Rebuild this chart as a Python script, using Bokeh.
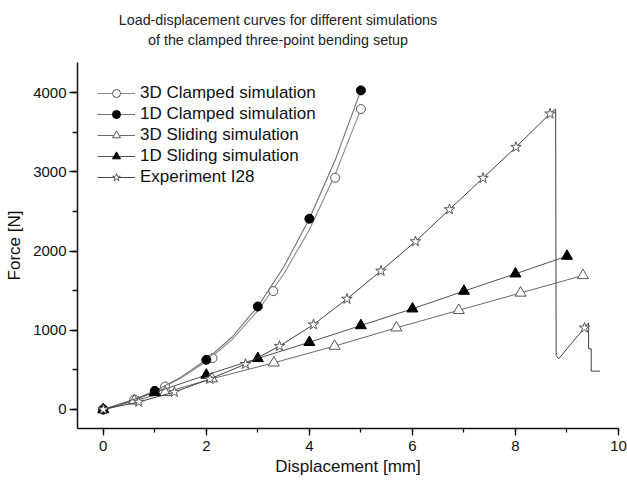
from bokeh.plotting import figure
from bokeh.layouts import column
from bokeh.models import SingleIntervalTicker, Range1d, Legend, LegendItem, Div
from bokeh.embed import file_html
from bokeh.resources import INLINE

# 3D clamped simulation: result points and the fitted curve
c3d_x = [0, 0.6, 1.2, 2.12, 3.3, 4.5, 5.0]
c3d_y = [0, 125, 290, 648, 1494, 2925, 3792]
c3d_curve_x = [0, 0.5, 1, 1.5, 2, 2.5, 3, 3.5, 4, 4.5, 5]
c3d_curve_y = [0, 94, 224, 393, 605, 881, 1247, 1707, 2270, 2967, 3792]

# 1D clamped simulation
c1d_x = [0, 1, 2, 3, 4, 5]
c1d_y = [0, 235, 627, 1300, 2408, 4028]
c1d_curve_x = [0, 0.5, 1, 1.5, 2, 2.5, 3, 3.5, 4, 4.5, 5]
c1d_curve_y = [0, 95, 235, 405, 627, 915, 1300, 1795, 2408, 3145, 4028]

# 3D sliding simulation
s3d_x = [0, 0.6, 1.2, 2.11, 3.31, 4.49, 5.69, 6.9, 8.1, 9.31]
s3d_y = [0, 110, 215, 388, 589, 800, 1031, 1252, 1471, 1692]

# 1D sliding simulation
s1d_x = [0, 1, 2, 3, 4, 5, 6, 7, 8, 9]
s1d_y = [0, 215, 435, 645, 848, 1060, 1271, 1494, 1713, 1936]

# Experiment I28: marked samples and the full recorded trace with the failure drop
exp_x = [0, 0.69, 1.38, 2.07, 2.76, 3.42, 4.08, 4.73, 5.39, 6.06, 6.72, 7.37, 8.01, 8.67, 9.34]
exp_y = [0, 95, 220, 385, 572, 800, 1072, 1395, 1750, 2121, 2525, 2921, 3312, 3733, 1031]
exp_trace_x = [0, 0.69, 1.38, 2.07, 2.76, 3.42, 4.08, 4.73, 5.39, 6.06, 6.72, 7.37, 8.01, 8.67,
               8.77, 8.78, 8.79, 8.84, 9.34, 9.41, 9.42, 9.42, 9.47, 9.47, 9.64]
exp_trace_y = [0, 95, 220, 385, 572, 800, 1072, 1395, 1750, 2121, 2525, 2921, 3312, 3733,
               3790, 3790, 680, 640, 1031, 1090, 1090, 766, 766, 484, 484]

title_lines = ["Load-displacement curves for different simulations",
               "of the clamped three-point bending setup"]

FONT = "Liberation Sans"

# two-line centred heading above the chart
heading = Div(
    text=('<div style="width:556px;text-align:center;font-family:\'Liberation Sans\';'
          'font-size:14.3px;line-height:20px;padding-top:10px;color:#222222;">'
          + "<br>".join(title_lines) + "</div>"),
    width=627, height=62, margin=0)

p = figure(width=627, height=422, output_backend="svg", toolbar_location=None,
           x_range=Range1d(-0.5, 10.0), y_range=Range1d(-240, 4380),
           min_border_left=77, min_border_right=9, min_border_top=0, min_border_bottom=56,
           margin=0)
p.title.visible = False

p.grid.visible = False
p.outline_line_color = None
p.background_fill_color = "white"
p.border_fill_color = "white"

for ax in (p.xaxis[0], p.yaxis[0]):
    ax.axis_line_width = 1.5
    ax.axis_line_color = "#111111"
    ax.major_tick_line_color = "#111111"
    ax.minor_tick_line_color = "#111111"
    ax.major_tick_line_width = 1.3
    ax.minor_tick_line_width = 1.3
    ax.major_tick_in = 0
    ax.minor_tick_in = 0
    ax.major_label_text_font = FONT
    ax.major_label_text_font_size = "15px"
    ax.major_label_text_color = "#111111"
    ax.axis_label_text_font = FONT
    ax.axis_label_text_font_size = "17px"
    ax.axis_label_text_font_style = "normal"
    ax.axis_label_text_color = "#111111"

p.xaxis.ticker = SingleIntervalTicker(interval=2, num_minor_ticks=2)
p.yaxis.ticker = SingleIntervalTicker(interval=1000, num_minor_ticks=2)
p.xaxis.major_tick_out = 7
p.xaxis.minor_tick_out = 4
p.yaxis.major_tick_out = 8
p.yaxis.minor_tick_out = 5
p.xaxis.major_label_standoff = 5
p.yaxis.major_label_standoff = 3
p.xaxis.axis_label = "Displacement [mm]"
p.yaxis.axis_label = "Force [N]"
p.xaxis.axis_label_standoff = 3
p.yaxis.axis_label_standoff = 6

# 3D clamped
l1 = p.line(c3d_curve_x, c3d_curve_y, line_color="#8a8a8a", line_width=1.1)
m1 = p.scatter(c3d_x, c3d_y, marker="circle", size=9, fill_color="white",
               line_color="#555555", line_width=1)
# 1D clamped
l2 = p.line(c1d_curve_x, c1d_curve_y, line_color="#707070", line_width=1.1)
m2 = p.scatter(c1d_x, c1d_y, marker="circle", size=9, fill_color="black",
               line_color="black")
# 3D sliding
l3 = p.line(s3d_x, s3d_y, line_color="#6a6a6a", line_width=1)
m3 = p.scatter(s3d_x, s3d_y, marker="triangle", size=11, fill_color="white",
               line_color="#555555", line_width=1)
# 1D sliding
l4 = p.line(s1d_x, s1d_y, line_color="#505050", line_width=1)
m4 = p.scatter(s1d_x, s1d_y, marker="triangle", size=11, fill_color="black",
               line_color="black")
# Experiment
l5 = p.line(exp_trace_x, exp_trace_y, line_color="#404040", line_width=1)
m5 = p.scatter(exp_x, exp_y, marker="star", size=11, fill_color="white",
               line_color="#555555", line_width=1)

legend = Legend(items=[
    LegendItem(label="3D Clamped simulation", renderers=[l1, m1]),
    LegendItem(label="1D Clamped simulation", renderers=[l2, m2]),
    LegendItem(label="3D Sliding simulation", renderers=[l3, m3]),
    LegendItem(label="1D Sliding simulation", renderers=[l4, m4]),
    LegendItem(label="Experiment I28", renderers=[l5, m5]),
], location=(20, 241))
legend.label_text_font = FONT
legend.label_text_font_size = "17px"
legend.label_text_color = "#111111"
legend.glyph_width = 38
legend.glyph_height = 20
legend.label_height = 20
legend.label_standoff = 5
legend.spacing = 1
legend.margin = 0
legend.padding = 0
legend.border_line_color = None
legend.background_fill_alpha = 0
p.add_layout(legend)

page = column(heading, p, spacing=0)
open("out.html", "w").write(file_html(page, INLINE))
